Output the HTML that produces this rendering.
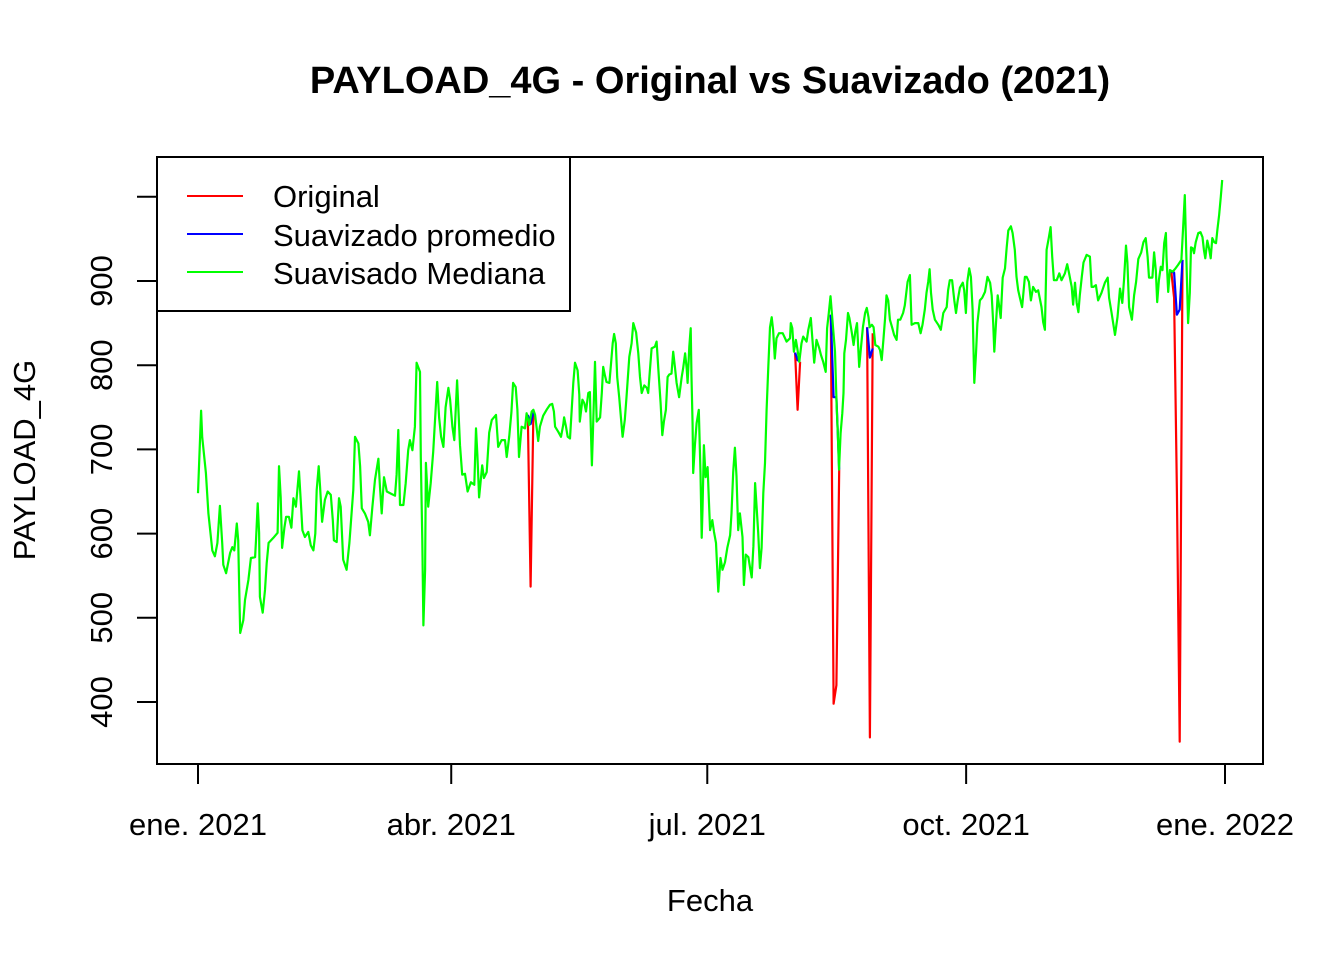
<!DOCTYPE html>
<html><head><meta charset="utf-8"><style>
html,body{margin:0;padding:0;background:#fff;}
svg{display:block;font-family:"Liberation Sans",Arial,sans-serif;}
</style></head><body>
<svg id="chart" width="1344" height="960" viewBox="0 0 1344 960" xmlns="http://www.w3.org/2000/svg">
<rect width="1344" height="960" fill="#fff"/>
<text x="710" y="93" text-anchor="middle" font-size="38" font-weight="bold">PAYLOAD_4G - Original vs Suavizado (2021)</text>
<rect x="157" y="157" width="1106" height="607" fill="none" stroke="#000" stroke-width="2"/>
<g id="xaxis"></g>
<g id="yaxis"></g>
<text x="710" y="911" text-anchor="middle" font-size="31">Fecha</text>
<text x="0" y="0" transform="translate(35,460) rotate(-90)" text-anchor="middle" font-size="31">PAYLOAD_4G</text>
<g id="series"></g>
<g>
<rect x="157" y="157" width="413" height="154" fill="#fff" stroke="#000" stroke-width="2"/>
<line x1="187" y1="196" x2="243" y2="196" stroke="#ff0000" stroke-width="2"/>
<line x1="187" y1="234" x2="243" y2="234" stroke="#0000ff" stroke-width="2"/>
<line x1="187" y1="272" x2="243" y2="272" stroke="#00ff00" stroke-width="2"/>
<text x="273" y="207" font-size="31">Original</text>
<text x="273" y="246" font-size="31">Suavizado promedio</text>
<text x="273" y="284" font-size="31">Suavisado Mediana</text>
</g>
</svg>
<script>
const xTickDays = [0, 90, 181, 273, 365];
const xTickLabels = ["ene. 2021", "abr. 2021", "jul. 2021", "oct. 2021", "ene. 2022"];
const yTicks = [400, 500, 600, 700, 800, 900, 1000];
const yTickLabels = ["400", "500", "600", "700", "800", "900", ""];

const medianaDays = [0,1.1,1.5,2.8,3.7,5.1,6.0,6.9,7.8,8.6,9.0,10.0,11.4,12.2,12.9,13.8,14.3,14.7,15.0,16.1,16.7,17.9,18.8,20.3,20.6,21.2,21.7,22.0,23.0,23.8,24.4,25.1,26.8,28.3,28.8,29.4,29.9,30.7,31.3,32.3,33.2,33.9,34.8,35.9,36.5,37.1,38.0,39.2,40.1,41.0,41.7,42.2,42.9,43.4,44.1,45.1,46.1,47.2,47.9,48.3,49.3,50.1,50.7,51.6,52.8,53.8,55.2,55.8,57.0,57.6,58.2,59.3,60.5,61.1,62.0,62.9,64.1,64.7,65.3,66.1,67.1,68.8,70.0,70.6,71.2,71.8,73.0,73.8,74.7,75.3,76.2,77.1,77.7,78.9,79.2,79.7,80.1,80.7,81.0,81.8,82.7,83.6,84.6,85.0,85.7,86.4,87.2,88.0,89.0,89.6,90.4,91.1,92.1,93.1,93.9,94.9,95.8,97.0,98.2,98.8,99.3,99.9,101.0,101.6,102.6,103.5,104.4,105.9,106.7,107.9,109.1,109.7,110.6,111.4,112.0,112.9,113.5,114.1,115.0,116.2,116.8,117.7,118.6,119.2,119.8,120.9,121.5,122.7,123.9,125.1,125.9,126.5,126.9,128.0,129.0,129.8,130.1,130.8,131.4,132.2,132.8,133.4,134.0,134.9,135.5,135.7,136.6,137.3,137.9,138.7,139.3,139.5,140.0,140.4,141.1,141.7,142.9,143.5,144.0,144.6,145.2,146.2,146.8,147.4,147.9,148.5,149.0,149.7,150.3,150.9,151.7,152.3,153.3,154.1,154.7,155.7,156.5,157.1,157.7,158.6,159.5,160.0,160.6,161.2,162.4,163.0,163.6,164.4,165.0,165.6,166.3,166.9,167.5,168.3,168.9,169.5,170.1,171.0,171.9,172.4,173.1,173.7,174.0,174.6,175.1,175.4,175.8,176.0,176.6,177.2,178.0,178.6,179.0,179.3,179.8,180.4,181.1,181.6,182.0,182.8,183.4,184.1,184.9,185.7,186.4,187.3,188.1,189.1,189.6,190.2,190.8,191.4,192.0,192.6,193.5,194.0,194.7,195.6,196.2,196.8,197.4,198.0,198.6,199.1,199.7,200.3,200.9,201.5,202.1,202.7,203.3,203.9,204.4,205.0,205.6,206.5,207.8,209.2,210.4,210.7,211.2,211.8,212.5,213.0,213.7,214.5,215.1,216.3,216.9,217.8,218.6,219.0,219.8,220.8,221.4,222.2,223.1,223.6,224.2,224.8,226.4,227.0,227.4,227.8,228.4,229.0,229.4,229.7,230.3,231.0,231.5,232.4,233.0,233.6,234.2,235.0,235.6,236.3,237.1,237.7,238.3,238.7,239.5,240.1,240.7,241.8,242.4,243.0,243.6,244.2,244.7,245.3,245.9,246.7,247.4,248.3,248.8,249.6,250.6,251.2,252.2,253.0,253.6,254.8,256.0,256.8,257.5,258.3,258.9,259.5,260.0,260.5,261.1,261.9,263.1,264.0,264.9,266.1,266.6,267.2,268.0,268.8,269.4,270.0,270.8,271.8,272.3,272.9,273.4,274.1,274.7,275.3,275.9,276.5,277.0,277.9,278.7,279.7,280.6,281.5,282.1,282.6,283.0,283.6,284.2,284.8,285.3,286.0,286.8,287.4,288.0,288.9,289.5,290.3,290.9,291.5,292.1,292.9,293.9,294.5,295.3,296.0,296.8,297.8,298.6,299.8,300.4,301.0,301.6,302.4,303.0,303.6,304.2,305.2,306.1,306.9,308.1,308.9,309.6,310.5,311.0,311.7,312.3,312.9,313.4,314.1,314.7,315.8,317.0,317.6,318.2,319.1,319.9,321.1,322.3,323.3,323.8,324.7,325.9,326.8,327.7,328.5,329.1,329.8,330.3,330.9,331.9,332.7,333.4,334.2,335.2,336.0,336.8,337.5,338.0,339.2,339.8,340.4,340.9,341.5,342.2,342.8,343.4,344.0,344.2,344.8,345.4,346.4,347.4,348.3,349.5,350.1,350.7,351.3,351.9,352.5,352.9,353.5,354.0,354.6,355.5,356.3,357.0,357.5,358.0,358.7,359.3,359.9,360.5,361.2,361.8,362.3,362.9,363.5,364.0];
const medianaValues = [648,746,715,672,624,580,573,589,633,589,563,553,577,584,580,612,592,525,482,497,521,545,571,572,592,636,601,525,506,533,565,589,595,601,680,643,583,607,620,620,607,642,632,674,640,604,596,602,586,580,600,652,680,655,614,640,650,646,616,592,590,642,632,569,557,589,652,715,707,680,630,624,614,598,632,664,689,655,624,667,650,647,645,670,723,634,634,660,699,711,699,727,803,792,691,592,491,557,684,632,660,697,755,780,738,715,703,750,773,759,727,711,782,705,670,671,650,661,658,725,693,643,681,666,673,720,735,741,703,711,711,691,715,744,779,774,747,691,727,725,743,729,745,747,741,710,727,740,747,753,754,745,727,721,715,729,738,727,715,713,747,779,803,794,765,733,759,755,745,767,768,738,681,723,804,733,738,767,798,788,780,779,803,826,837,826,786,762,738,715,735,762,810,826,850,839,814,786,767,776,773,767,794,820,822,828,796,755,717,733,747,786,789,790,816,798,779,762,786,796,814,796,779,822,844,786,729,672,705,731,747,672,595,628,705,667,679,636,604,616,602,589,531,571,557,566,583,598,624,673,702,668,604,624,596,539,575,572,560,548,585,660,628,601,559,583,648,684,747,798,845,857,842,808,832,838,838,828,832,850,844,816,830,820,804,826,834,828,842,856,820,803,830,820,812,804,792,844,862,882,816,750,719,676,719,743,767,814,830,862,856,838,824,840,850,798,820,845,862,868,857,845,848,845,824,822,818,806,830,856,883,877,854,845,836,830,854,854,862,871,899,907,848,850,850,838,848,866,886,899,914,886,866,854,848,842,862,869,889,901,901,877,862,877,892,898,889,862,899,915,905,866,779,814,850,877,880,887,905,898,883,850,816,850,883,869,856,904,915,940,960,965,957,937,905,889,880,869,905,905,899,877,893,887,889,869,851,842,937,952,964,929,901,901,909,901,909,920,909,893,872,898,874,863,883,905,922,931,929,893,893,895,877,886,898,904,880,862,836,857,891,874,901,942,922,869,854,883,899,926,934,946,951,929,904,904,934,913,875,901,917,913,945,957,929,887,913,911,915,919,925,963,1002,922,850,886,940,939,933,946,957,958,952,937,927,948,939,927,951,946,945,961,978,1000,1020];

const anomDays = [[117.2,118.2,119.2],[212.2,213.1,214.0],[224.9,225.9,226.9,227.9],[237.8,238.8,239.8],[345.9,346.9,347.9,348.9,349.9]];
const originalValues = [[741,537,744],[815,747,804],[860,398,420,676],[845,358,838],[911,880,650,353,925]];
const promedioValues = [[741,730,744],[815,806,804],[860,762,762,676],[845,809,820],[911,910,860,866,925]];

const NS = "http://www.w3.org/2000/svg";
function xScale(d){ return 198 + d * 2.8137; }
function yScale(v){ return 281 - (v - 900) * 0.842; }

const xg = document.getElementById('xaxis');
const xl = document.createElementNS(NS,'line');


xl.setAttribute('x1',xScale(xTickDays[0])); xl.setAttribute('x2',xScale(xTickDays[xTickDays.length-1]));
xl.setAttribute('y1',764); xl.setAttribute('y2',764); xl.setAttribute('stroke','#000'); xl.setAttribute('stroke-width','2');
xg.appendChild(xl);
xTickDays.forEach((d,i)=>{
  const t=document.createElementNS(NS,'line');
  
  
  t.setAttribute('x1',xScale(d)); t.setAttribute('x2',xScale(d)); t.setAttribute('y1',764); t.setAttribute('y2',784);
  t.setAttribute('stroke','#000'); t.setAttribute('stroke-width','2'); xg.appendChild(t);
  const tx=document.createElementNS(NS,'text');
  
  
  tx.setAttribute('x',xScale(d)); tx.setAttribute('y',835); tx.setAttribute('text-anchor','middle'); tx.setAttribute('font-size','31');
  tx.textContent=xTickLabels[i]; xg.appendChild(tx);
});
const yg = document.getElementById('yaxis');
const yl = document.createElementNS(NS,'line');


yl.setAttribute('x1',157); yl.setAttribute('x2',157);
yl.setAttribute('y1',yScale(yTicks[0])); yl.setAttribute('y2',yScale(yTicks[yTicks.length-1]));
yl.setAttribute('stroke','#000'); yl.setAttribute('stroke-width','2');
yg.appendChild(yl);
yTicks.forEach((v,i)=>{
  const t=document.createElementNS(NS,'line');
  
  
  t.setAttribute('x1',137); t.setAttribute('x2',157); t.setAttribute('y1',yScale(v)); t.setAttribute('y2',yScale(v));
  t.setAttribute('stroke','#000'); t.setAttribute('stroke-width','2'); yg.appendChild(t);
  if(yTickLabels[i]){
    const tx=document.createElementNS(NS,'text');
    
    
    tx.setAttribute('transform','translate(112,'+yScale(v)+') rotate(-90)');
    tx.setAttribute('text-anchor','middle'); tx.setAttribute('font-size','31');
    tx.textContent=yTickLabels[i]; yg.appendChild(tx);
  }
});

const sg = document.getElementById('series');
function poly(days, vals, color){
  const p=document.createElementNS(NS,'polyline');
  p.setAttribute('points', days.map((d,i)=>xScale(d).toFixed(1)+','+yScale(vals[i]).toFixed(1)).join(' '));
  p.setAttribute('fill','none'); p.setAttribute('stroke',color); p.setAttribute('stroke-width','2.2');
  p.setAttribute('stroke-linejoin','round');
  sg.appendChild(p);
  return p;
}
anomDays.forEach((d,i)=>{
  const r=poly(d, originalValues[i], '#ff0000');
  
  
});
anomDays.forEach((d,i)=>{
  const b=poly(d, promedioValues[i], '#0000ff');
  
  
});
const g=poly(medianaDays, medianaValues, '#00ff00');


</script>
</body></html>
